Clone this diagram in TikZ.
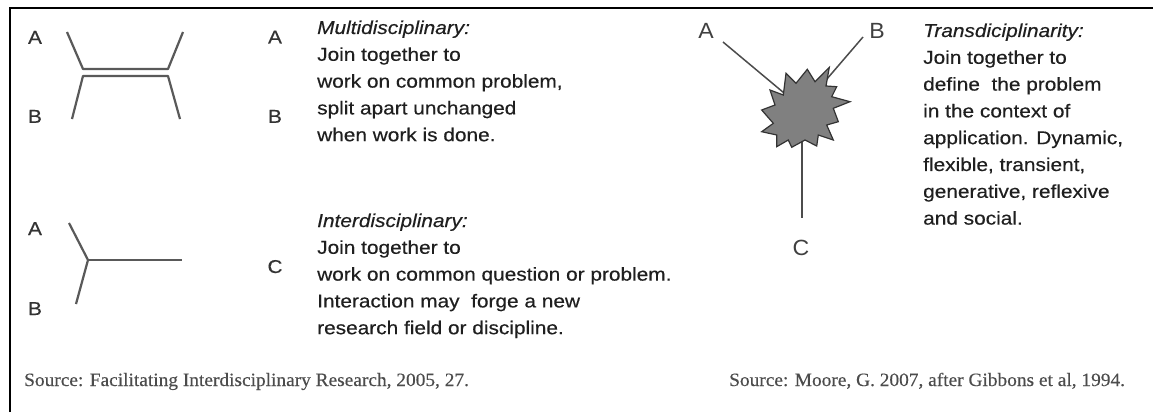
\documentclass[tikz,border=0pt]{standalone}
\usepackage{fontspec}
\setmainfont{Liberation Sans}[FakeStretch=1.12,FakeBold=0.35]
\newfontfamily\srcfont{Liberation Serif}[FakeStretch=1.03,FakeBold=0.3]
\newfontfamily\thinfont{Liberation Sans}[FakeStretch=1.05]
\begin{document}
\begin{tikzpicture}[x=1pt,y=-1pt,
  frame/.style={line width=2.4pt,draw=black},
  bond/.style={line width=2.2pt,draw=black!65,line join=round},
  spoke/.style={line width=1.5pt,draw=black!70},
  letter/.style={inner sep=0pt,anchor=base,text=black!80,font=\fontsize{18.6}{22}\selectfont},
  bigletter/.style={inner sep=0pt,anchor=base,text=black!75,font=\thinfont\fontsize{22}{26}\selectfont},
  para/.style={inner sep=0pt,anchor=base west,text=black!88,font=\fontsize{18.6}{26.8}\selectfont},
  src/.style={inner sep=0pt,anchor=base west,text=black!70,font=\srcfont\fontsize{18.8}{22}\selectfont},
  burst/.style={fill=black!50,draw=black!80,line width=1.2pt,line join=miter}
]
\useasboundingbox (0,0) rectangle (1153,412);
\fill[white] (0,0) rectangle (1153,412);

% frame: left and top edges
\draw[frame] (10,412) -- (10,8) -- (1153,8);

% ---- multidisciplinary: two bonds joined, then split ----
\coordinate (m1) at (67,32);   \coordinate (m2) at (83,69);
\coordinate (m3) at (168,69);  \coordinate (m4) at (183,32);
\coordinate (m5) at (72,119);  \coordinate (m6) at (83,76);
\coordinate (m7) at (168,76);  \coordinate (m8) at (180,119);
\draw[bond] (m1) -- (m2) -- (m3) -- (m4);
\draw[bond] (m5) -- (m6) -- (m7) -- (m8);
\node[letter] (mAl) at (35,43.8) {A};
\node[letter] (mBl) at (35,122.8) {B};
\node[letter] (mAr) at (275,43.5) {A};
\node[letter] (mBr) at (275,122.8) {B};
\node[para] (multi) at (317,34) {\parbox[t]{320pt}{\raggedright\baselineskip=26.8pt
  \textit{Multidisciplinary:}\\
  Join together to\\
  work on common problem,\\
  split apart unchanged\\
  when work is done.}};

% ---- interdisciplinary: two branches merge into one ----
\coordinate (i1) at (69,223);  \coordinate (ij) at (88,260);
\coordinate (i2) at (76,304);  \coordinate (i3) at (182,260);
\draw[bond] (i1) -- (ij) -- (i2);
\draw[bond] (ij) -- (i3);
\node[letter] (iA) at (35,235) {A};
\node[letter] (iB) at (35,315) {B};
\node[letter] (iC) at (275,273) {C};
\node[para] (inter) at (317,227) {\parbox[t]{420pt}{\raggedright\baselineskip=26.8pt
  \textit{Interdisciplinary:}\\
  Join together to\\
  work on common question or problem.\\
  Interaction may \ forge a new\\
  research field or discipline.}};

% ---- transdisciplinarity: three spokes into a burst ----
\coordinate (hub) at (802,108);
\coordinate (tAe) at (723,42);
\coordinate (tBe) at (863,37);
\coordinate (tCe) at (802,218);
\draw[spoke] (tAe) -- (hub);
\draw[spoke] (tBe) -- (hub);
\draw[spoke] (hub) -- (tCe);
\draw[burst] (770,90) -- (783.3,95) -- (786,73.3) -- (796,83.3) -- (807.3,69.3)
  -- (815,81.7) -- (829.3,67.3) -- (826,86) -- (836.7,86.7) -- (831.7,96.7)
  -- (850,101.7) -- (833.3,108.3) -- (838.3,121.7) -- (826.7,125) -- (833.3,140)
  -- (818.3,135) -- (816.7,146) -- (805,140) -- (791.7,147.3) -- (788.3,140)
  -- (776.7,146.7) -- (776.7,135) -- (761.7,131.7) -- (773.3,123.3)
  -- (761.7,110) -- (775,105) -- cycle;
\node[bigletter] (tA) at (706,38) {A};
\node[bigletter] (tB) at (877,38) {B};
\node[bigletter] (tC) at (801,255) {C};
\node[para] (trans) at (923,37) {\parbox[t]{230pt}{\raggedright\baselineskip=26.8pt
  \textit{Transdiciplinarity:}\\
  Join together to\\
  define \ the problem\\
  in the context of\\
  application. Dynamic,\\
  flexible, transient,\\
  generative, reflexive\\
  and social.}};

% ---- sources ----
\node[src] (srcL) at (24,386) {Source: Facilitating Interdisciplinary Research, 2005, 27.};
\node[src] (srcR) at (729,386) {Source: Moore, G. 2007, after Gibbons et al, 1994.};
\end{tikzpicture}
\end{document}
